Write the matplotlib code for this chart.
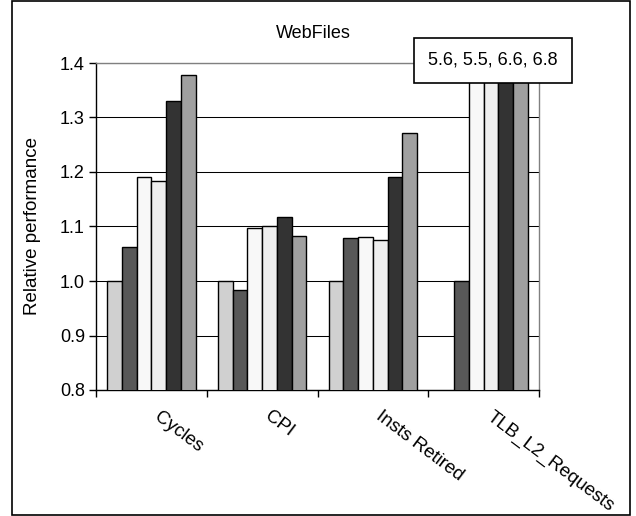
import matplotlib
matplotlib.use("Agg")
import matplotlib.pyplot as plt
import numpy as np
from matplotlib.patches import Rectangle
from matplotlib.transforms import ScaledTranslation

plt.rcParams["font.family"] = ["Liberation Sans", "DejaVu Sans"]

CATEGORIES = ["Cycles", "CPI", "Insts Retired", "TLB_L2_Requests"]
# six configurations per metric; values relative to baseline
SERIES = [
    [1.000, 1.000, 1.000, 0.0],
    [1.063, 0.983, 1.078, 1.000],
    [1.190, 1.098, 1.081, 5.6],
    [1.183, 1.101, 1.075, 5.5],
    [1.330, 1.117, 1.190, 6.6],
    [1.378, 1.083, 1.272, 6.8],
]
SERIES_COLORS = ["#d0d0d0", "#585858", "#f8f8f8", "#eeeeee", "#333333", "#a0a0a0"]
OFFSCALE_NOTE = "5.6, 5.5, 6.6, 6.8"
YTICKS = [0.8, 0.9, 1.0, 1.1, 1.2, 1.3, 1.4]

W, H = 636, 516
fig = plt.figure(figsize=(W / 100, H / 100), dpi=100)
ax = fig.add_axes([96 / W, 1 - 390 / H, (539 - 96) / W, (390 - 63) / H])

n = len(SERIES)
bar_w = 1.0 / (n + 1.5)
x = np.arange(len(CATEGORIES)) + 0.5
for i, (vals, col) in enumerate(zip(SERIES, SERIES_COLORS)):
    ax.bar(x + (i - (n - 1) / 2) * bar_w, vals, width=bar_w, color=col,
           edgecolor="black", linewidth=1.0, zorder=3)

ax.set_xlim(0, len(CATEGORIES))
ax.set_ylim(0.8, 1.4)
ax.set_yticks(YTICKS)
ax.set_yticklabels([f"{v:.1f}" for v in YTICKS], fontsize=13)
ax.set_xticks(np.arange(len(CATEGORIES) + 1))
ax.set_xticklabels([])
ax.tick_params(axis="both", direction="out", length=5, width=1, color="black")
ax.tick_params(axis="y", pad=3)
ax.grid(axis="y", color="black", linewidth=0.75, zorder=0)
ax.set_axisbelow(True)
for side in ("top", "right"):
    ax.spines[side].set_color("#808080")
    ax.spines[side].set_linewidth(1.0)
for side in ("left", "bottom"):
    ax.spines[side].set_color("black")
    ax.spines[side].set_linewidth(1.0)

off = ScaledTranslation(10 / 100, -18 / 100, fig.dpi_scale_trans)
for xc, lab in zip(x, CATEGORIES):
    ax.text(xc, 0, lab, transform=ax.get_xaxis_transform() + off,
            rotation=-37, rotation_mode="anchor", ha="left", va="top",
            fontsize=13.5)

fig.text(313 / W, 1 - 33 / H, "WebFiles", ha="center", va="center", fontsize=13)
fig.text(33 / W, 1 - 226 / H, "Relative performance", rotation=90,
         ha="center", va="center", fontsize=13.5)

# note box for bars that run off the scale
fig.add_artist(Rectangle((414 / W, 1 - 83 / H), 158 / W, 45 / H,
                         transform=fig.transFigure, facecolor="white",
                         edgecolor="black", linewidth=1.2, zorder=5))
fig.text(493 / W, 1 - 60 / H, OFFSCALE_NOTE, ha="center", va="center",
         fontsize=13, zorder=6)

# outer chart border
fig.add_artist(Rectangle((11.5 / W, 1 - 515 / H), 618.5 / W, 514 / H,
                         transform=fig.transFigure, facecolor="none",
                         edgecolor="black", linewidth=1.2))

fig.savefig("out.png", dpi=100)
